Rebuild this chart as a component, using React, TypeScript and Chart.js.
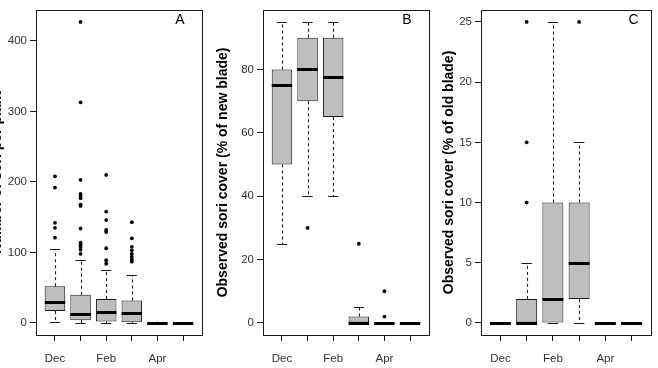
import React, { useEffect, useRef } from 'react';
import { Chart, registerables } from 'chart.js';

Chart.register(...registerables);

// ---------- categories ----------
const months = ['Dec', 'Jan', 'Feb', 'Mar', 'Apr', 'May'];
const shownMonths = ['Dec', '', 'Feb', '', 'Apr', ''];

// ---------- Panel A: number of sori ----------
const aTitle = 'Number of sori per plant';
const aTicks = [0, 100, 200, 300, 400];
const aLow = [1, 0, 0, 0, 0, 0];
const aQ1 = [17, 4, 2, 1, 0, 0];
const aMed = [30, 13, 16, 14, 0, 0];
const aQ3 = [52, 40, 34, 32, 0, 0];
const aHigh = [105, 89, 75, 68, 2, 0];
const aOut = [
  [208, 192, 142, 135, 121],
  [427, 313, 203, 183, 180, 177, 168, 166, 134, 114, 111, 108, 104, 98],
  [210, 158, 146, 132, 129, 106, 89, 84],
  [143, 120, 108, 103, 98, 94, 90, 87],
  [],
  [],
];

// ---------- Panel B: sori cover, new blade ----------
const bTitle = 'Observed sori cover (% of new blade)';
const bTicks = [0, 20, 40, 60, 80];
const bLow = [25, 40, 40, 0, 0, 0];
const bQ1 = [50, 70, 65, 0, 0, 0];
const bMed = [75, 80, 77.5, 0, 0, 0];
const bQ3 = [80, 90, 90, 2, 0, 0];
const bHigh = [95, 95, 95, 5, 0, 0];
const bOut = [[], [30], [], [25], [10, 2], []];

// ---------- Panel C: sori cover, old blade ----------
const cTitle = 'Observed sori cover (% of old blade)';
const cTicks = [0, 5, 10, 15, 20, 25];
const cLow = [0, 0, 0, 0, 0, 0];
const cQ1 = [0, 0, 0, 2, 0, 0];
const cMed = [0, 0, 2, 5, 0, 0];
const cQ3 = [0, 2, 10, 10, 0, 0];
const cHigh = [0, 5, 25, 15, 0, 0];
const cOut = [[], [25, 15, 10], [], [25], [], []];

// ---------- layout / style ----------
const FONT = "'Liberation Sans', Arial, Helvetica, sans-serif";
const PAGE_W = 658;
const PAGE_H = 368;
const SHIFT = 20; // canvases start 20px left of the page
const CANVAS_W = PAGE_W + SHIFT;
const PLOT_TOP = 6;
const PLOT_BOTTOM = 335;
const LINE = '#1a1a1a';
const BOX_FILL = '#bebebe';

type PanelSpec = {
  title: string;
  ticks: number[];
  low: number[];
  q1: number[];
  med: number[];
  q3: number[];
  high: number[];
  out: number[][];
  left: number;
  right: number;
  titleMid: number;
  letter: string;
  letterOffset: number;
};

const panels: PanelSpec[] = [
  { title: aTitle, ticks: aTicks, low: aLow, q1: aQ1, med: aMed, q3: aQ3, high: aHigh, out: aOut,
    left: 36, right: 202, titleMid: -3, letter: 'A', letterOffset: 22 },
  { title: bTitle, ticks: bTicks, low: bLow, q1: bQ1, med: bMed, q3: bQ3, high: bHigh, out: bOut,
    left: 263, right: 429, titleMid: 223, letter: 'B', letterOffset: 22 },
  { title: cTitle, ticks: cTicks, low: cLow, q1: cQ1, med: cMed, q3: cQ3, high: cHigh, out: cOut,
    left: 481, right: 651, titleMid: 449.5, letter: 'C', letterOffset: 17.5 },
];

const px = (v: number) => Math.round(v) + 0.5;

const boxplotExtras: any = {
  id: 'boxplotExtras',
  beforeDatasetsDraw(chart: any, _args: any, opts: any) {
    const { ctx } = chart;
    const y = chart.scales.y;
    const meta = chart.getDatasetMeta(0);
    ctx.save();
    ctx.strokeStyle = LINE;
    meta.data.forEach((bar: any, i: number) => {
      const { x, width } = bar.getProps(['x', 'width'], true);
      const cx = px(x);
      const pLow = y.getPixelForValue(opts.low[i]);
      const pQ1 = y.getPixelForValue(opts.q1[i]);
      const pQ3 = y.getPixelForValue(opts.q3[i]);
      const pHigh = y.getPixelForValue(opts.high[i]);
      ctx.lineWidth = 1.1;
      ctx.setLineDash([3, 3]);
      ctx.beginPath();
      if (opts.high[i] > opts.q3[i]) {
        ctx.moveTo(cx, pQ3);
        ctx.lineTo(cx, pHigh);
      }
      if (opts.low[i] < opts.q1[i]) {
        ctx.moveTo(cx, pQ1);
        ctx.lineTo(cx, pLow);
      }
      ctx.stroke();
      ctx.setLineDash([]);
      ctx.lineWidth = 1;
      const hw = width / 4;
      ctx.beginPath();
      ctx.moveTo(x - hw, px(pHigh));
      ctx.lineTo(x + hw, px(pHigh));
      ctx.moveTo(x - hw, px(pLow));
      ctx.lineTo(x + hw, px(pLow));
      ctx.stroke();
    });
    ctx.restore();
  },
  afterDatasetsDraw(chart: any, _args: any, opts: any) {
    const { ctx } = chart;
    const y = chart.scales.y;
    const meta = chart.getDatasetMeta(0);
    ctx.save();
    ctx.strokeStyle = '#000';
    ctx.lineWidth = 3;
    ctx.lineCap = 'butt';
    meta.data.forEach((bar: any, i: number) => {
      const { x, width } = bar.getProps(['x', 'width'], true);
      const pMed = px(y.getPixelForValue(opts.med[i]));
      ctx.beginPath();
      ctx.moveTo(x - width / 2, pMed);
      ctx.lineTo(x + width / 2, pMed);
      ctx.stroke();
    });
    ctx.restore();
  },
  afterDraw(chart: any, _args: any, opts: any) {
    const { ctx, chartArea } = chart;
    ctx.save();
    ctx.strokeStyle = LINE;
    ctx.lineWidth = 1;
    const l = Math.round(chartArea.left);
    const t = Math.round(chartArea.top);
    const r = Math.round(chartArea.right);
    const b = Math.round(chartArea.bottom);
    ctx.strokeRect(l + 0.5, t + 0.5, r - l, b - t);
    ctx.fillStyle = '#000';
    ctx.font = `14px ${FONT}`;
    ctx.textAlign = 'center';
    ctx.textBaseline = 'alphabetic';
    ctx.fillText(opts.letter, chartArea.right - opts.letterOffset, 23.5);
    ctx.restore();
  },
};

function Panel({ spec }: { spec: PanelSpec }) {
  const ref = useRef<HTMLCanvasElement>(null);
  useEffect(() => {
    const canvas = ref.current;
    if (!canvas) return;
    const boxes = spec.q1.map((v, i) => ({ x: i, y: [v, spec.q3[i]] }));
    const outliers = spec.out.flatMap((arr, i) => arr.map((v) => ({ x: i, y: v })));
    const all = [...spec.low, ...spec.high, ...spec.out.flat()];
    const lo = Math.min(...all);
    const hi = Math.max(...all);
    const ext = (hi - lo) * 0.04;
    const titleLine = 14 * 1.2;
    const axisLeft = spec.titleMid + SHIFT - titleLine / 2;
    const axisWidth = spec.left + SHIFT - axisLeft;

    const chart = new Chart(canvas, {
      type: 'bar',
      data: {
        datasets: [
          {
            type: 'bar',
            data: boxes as any,
            backgroundColor: BOX_FILL,
            borderColor: LINE,
            borderWidth: 1,
            borderSkipped: false,
            barPercentage: 0.8,
            categoryPercentage: 1,
          } as any,
          {
            type: 'scatter',
            data: outliers as any,
            pointRadius: 1.9,
            pointBackgroundColor: '#000',
            pointBorderWidth: 0,
            borderColor: '#000',
            backgroundColor: '#000',
          } as any,
        ],
      },
      options: {
        responsive: false,
        animation: false,
        events: [],
        layout: {
          padding: { left: axisLeft, right: PAGE_W - spec.right, top: PLOT_TOP, bottom: 0 },
        },
        scales: {
          x: {
            type: 'linear',
            offset: false,
            min: -0.74,
            max: months.length - 1 + 0.74,
            afterBuildTicks: (s: any) => {
              s.ticks = months.map((_, i) => ({ value: i }));
            },
            afterFit: (s: any) => {
              s.height = PAGE_H - PLOT_BOTTOM;
            },
            grid: { display: true, offset: false, drawOnChartArea: false, drawTicks: true, tickLength: 6, color: LINE },
            border: { display: false },
            ticks: {
              autoSkip: false,
              maxRotation: 0,
              padding: 11,
              color: '#333',
              font: { family: FONT, size: 11.5 },
              callback: (v: any) => shownMonths[v] ?? '',
            },
          },
          y: {
            type: 'linear',
            min: lo - ext,
            max: hi + ext,
            afterBuildTicks: (s: any) => {
              s.ticks = spec.ticks.map((v) => ({ value: v }));
            },
            afterFit: (s: any) => {
              s.width = axisWidth;
            },
            grid: { display: true, drawOnChartArea: false, drawTicks: true, tickLength: 6, color: LINE },
            border: { display: false },
            ticks: {
              padding: 3,
              color: '#333',
              font: { family: FONT, size: 11.5 },
            },
            title: {
              display: true,
              text: spec.title,
              color: '#000',
              font: { family: FONT, size: 14, weight: 'bold' },
              padding: 0,
            },
          },
        },
        plugins: {
          legend: { display: false },
          tooltip: { enabled: false },
          boxplotExtras: {
            low: spec.low,
            q1: spec.q1,
            med: spec.med,
            q3: spec.q3,
            high: spec.high,
            letter: spec.letter,
            letterOffset: spec.letterOffset,
          },
        } as any,
      } as any,
      plugins: [boxplotExtras],
    });
    return () => chart.destroy();
  }, [spec]);

  return (
    <canvas
      ref={ref}
      width={CANVAS_W}
      height={PAGE_H}
      style={{ position: 'absolute', left: -SHIFT, top: 0, width: CANVAS_W, height: PAGE_H }}
    />
  );
}

export default function App() {
  return (
    <div
      style={{
        position: 'absolute',
        left: 0,
        top: 0,
        width: PAGE_W,
        height: PAGE_H,
        overflow: 'hidden',
        background: '#fff',
      }}
    >
      {panels.map((p) => (
        <Panel key={p.letter} spec={p} />
      ))}
    </div>
  );
}
